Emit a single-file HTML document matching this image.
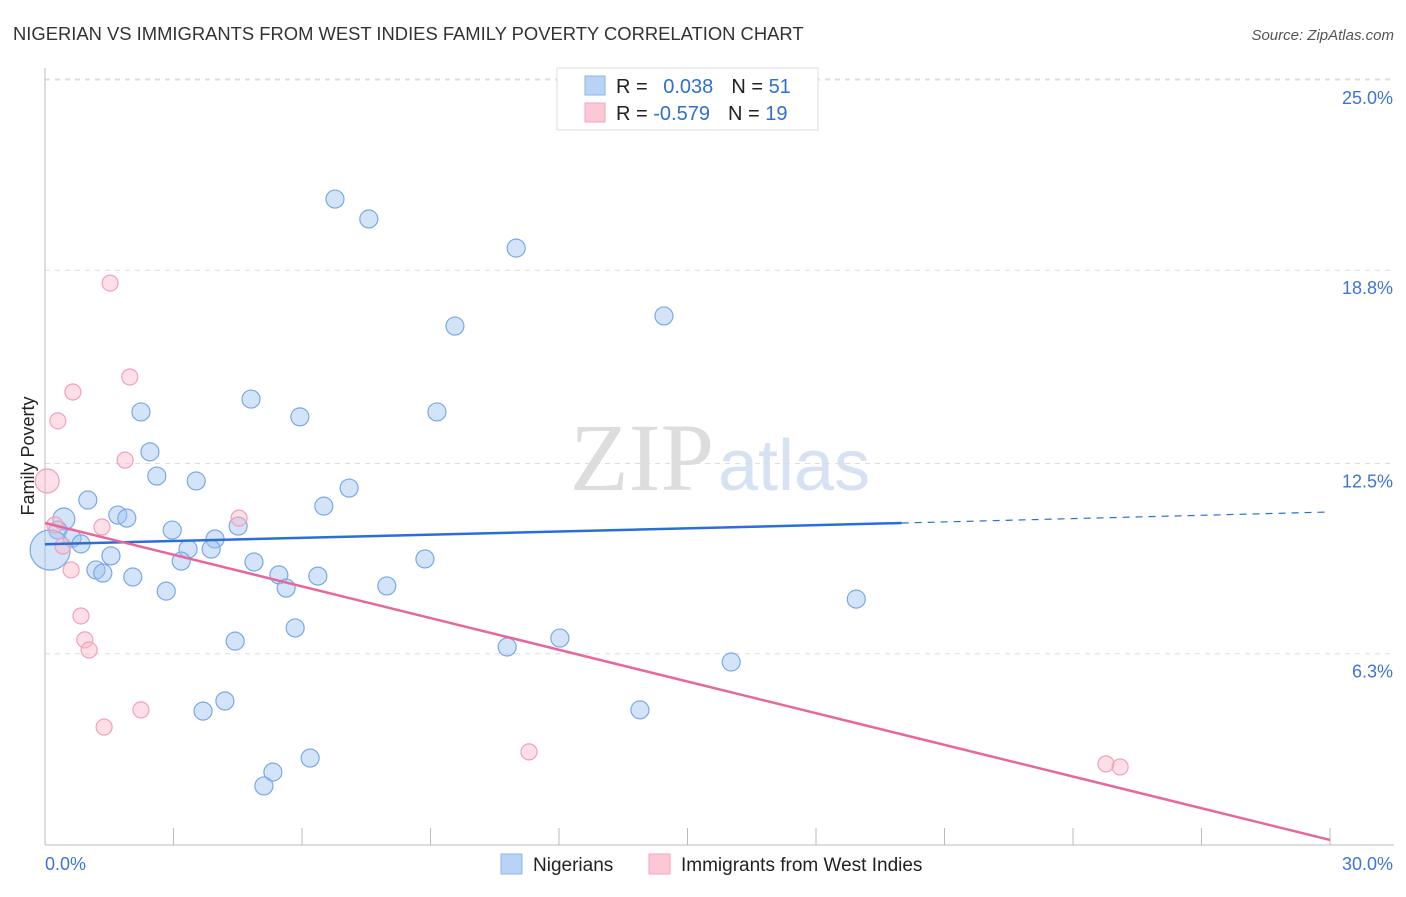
<!DOCTYPE html>
<html><head><meta charset="utf-8"><style>
body{margin:0;background:#fff;font-family:"Liberation Sans",sans-serif;}
svg text{font-family:"Liberation Sans",sans-serif;}
</style></head><body>
<svg id="c" width="1406" height="892" xmlns="http://www.w3.org/2000/svg">
<text x="13" y="40" font-size="18.4" fill="#333">NIGERIAN VS IMMIGRANTS FROM WEST INDIES FAMILY POVERTY CORRELATION CHART</text>
<text x="1394" y="40" font-size="15" fill="#555" font-style="italic" text-anchor="end">Source: ZipAtlas.com</text>
<text x="714" y="490" font-size="96" fill="#ddd" text-anchor="end" style="font-family:'Liberation Serif',serif">ZIP</text>
<text x="718" y="490" font-size="72" fill="#d6e2f3">atlas</text>
<text transform="translate(34,456) rotate(-90)" font-size="18" fill="#222" text-anchor="middle">Family Poverty</text>
<g id="grid"></g><g id="pts"></g><g id="lines"></g>
<g>
<rect x="557" y="68" width="261" height="62" fill="#fff" stroke="#ddd"/>
<rect x="585" y="76" width="20" height="19" fill="#b9d3f5" stroke="#8ab4ea"/>
<rect x="585" y="103" width="20" height="19" fill="#fcc8d6" stroke="#f4a6bd"/>
<text x="616" y="93" font-size="20" fill="#222">R = <tspan fill="#2f6fd0" dx="10">0.038</tspan><tspan fill="#222" dx="18">N = </tspan><tspan fill="#2f6fd0">51</tspan></text>
<text x="616" y="120" font-size="20" fill="#222">R = <tspan fill="#2f6fd0">-0.579</tspan><tspan fill="#222" dx="18">N = </tspan><tspan fill="#2f6fd0">19</tspan></text>
</g>
<g>
<rect x="501" y="854" width="21" height="20" fill="#b9d3f5" stroke="#8ab4ea"/>
<text x="533" y="871" font-size="19" fill="#222">Nigerians</text>
<rect x="649" y="854" width="21" height="20" fill="#fcc8d6" stroke="#f4a6bd"/>
<text x="681" y="871" font-size="19" fill="#222">Immigrants from West Indies</text>
</g>
</svg>
<script>
const blueX=[6.77,7.56,11.0,9.57,14.45,2.24,4.81,5.95,9.15,2.45,2.61,3.53,7.10,1.00,6.51,1.70,1.91,0.44,4.51,2.97,0.30,0.63,3.97,0.84,3.34,3.88,1.54,3.18,4.88,8.87,1.19,1.35,2.05,5.46,6.37,5.63,7.98,2.83,18.94,5.84,4.44,12.02,10.79,16.02,4.20,3.69,13.89,6.19,5.32,5.11,0.12];
const blueY=[21.12,20.47,19.52,16.98,17.31,14.18,14.60,14.02,14.18,12.88,12.09,11.93,11.70,11.31,11.11,10.82,10.72,10.69,10.46,10.33,10.33,10.07,10.04,9.88,9.71,9.71,9.49,9.32,9.29,9.39,9.03,8.93,8.80,8.87,8.83,8.44,8.51,8.34,8.08,7.14,6.71,6.81,6.52,6.03,4.76,4.43,4.47,2.90,2.44,1.99,9.68];
const pinkX=[1.52,0.65,0.30,1.98,1.87,0.05,4.53,1.33,0.23,0.42,0.61,0.84,0.93,1.03,2.24,1.38,11.30,24.77,25.10];
const pinkY=[18.38,14.83,13.89,15.32,12.61,11.93,10.72,10.43,10.50,9.81,9.03,7.53,6.75,6.42,4.47,3.91,3.10,2.71,2.61];
const blueTrend=[[0,9.87],[20,10.56],[30,10.92]];
const pinkTrend=[[0,10.56],[30,0.23]];
const yTicks=[25.0,18.8,12.5,6.3];
const yTickLabels=["25.0%","18.8%","12.5%","6.3%"];
const xTickVals=[0,3,6,9,12,15,18,21,24,27,30];
const NS="http://www.w3.org/2000/svg";
const sx=v=>45+v*1285/30, sy=v=>847-v*30.68;
function mk(t,a,p){const e=document.createElementNS(NS,t);for(const k in a)e.setAttribute(k,a[k]);p.appendChild(e);return e;}
const grid=document.getElementById('grid');
yTicks.forEach((v,i)=>{
 const l=mk('line',{x1:45,x2:1394,y1:sy(v),y2:sy(v),stroke:'#ddd','stroke-dasharray':'5,5'},grid);
 
 
 const t=mk('text',{x:1393,y:sy(v)+24,'font-size':18,fill:'#3d74d6','text-anchor':'end'},grid);
 t.textContent=yTickLabels[i];
 
 
});
const topGrid=mk('line',{x1:45,x2:1394,y1:79,y2:79,stroke:'#ddd','stroke-dasharray':'5,5'},grid);


const ya=mk('line',{x1:45,x2:45,y1:68,y2:845,stroke:'#bbb'},grid);


const xa=mk('line',{x1:45,x2:1394,y1:845,y2:845,stroke:'#bbb'},grid);


xTickVals.forEach(v=>{const l=mk('line',{x1:sx(v),x2:sx(v),y1:828,y2:845,stroke:'#bbb'},grid);
 
 });
const xl0=mk('text',{x:45,y:870,'font-size':18,fill:'#3d74d6'},grid);xl0.textContent='0.0%';


const xl1=mk('text',{x:1393,y:870,'font-size':18,fill:'#3d74d6','text-anchor':'end'},grid);xl1.textContent='30.0%';


const pts=document.getElementById('pts');
blueX.forEach((v,i)=>{let r=9;if(i===50)r=20;if(i===17)r=11;
 const c=mk('circle',{cx:sx(v),cy:sy(blueY[i]),r:r,fill:'rgba(160,196,240,0.45)',stroke:'#7aa8e6','stroke-width':1.2},pts);
 
 });
pinkX.forEach((v,i)=>{let r=8;if(i===5)r=12;
 const c=mk('circle',{cx:sx(v),cy:sy(pinkY[i]),r:r,fill:'rgba(250,185,205,0.45)',stroke:'#f2a0ba','stroke-width':1.2},pts);
 
 });
const lines=document.getElementById('lines');
const b1=mk('line',{x1:sx(blueTrend[0][0]),y1:sy(blueTrend[0][1]),x2:sx(blueTrend[1][0]),y2:sy(blueTrend[1][1]),stroke:'#2a6fd6','stroke-width':2.5},lines);


const b2=mk('line',{x1:sx(blueTrend[1][0]),y1:sy(blueTrend[1][1]),x2:sx(blueTrend[2][0]),y2:sy(blueTrend[2][1]),stroke:'#2a6fd6','stroke-width':1.2,'stroke-dasharray':'7,6'},lines);


const p1=mk('line',{x1:sx(pinkTrend[0][0]),y1:sy(pinkTrend[0][1]),x2:sx(pinkTrend[1][0]),y2:sy(pinkTrend[1][1]),stroke:'#e8679a','stroke-width':2.5},lines);


</script>
</body></html>
